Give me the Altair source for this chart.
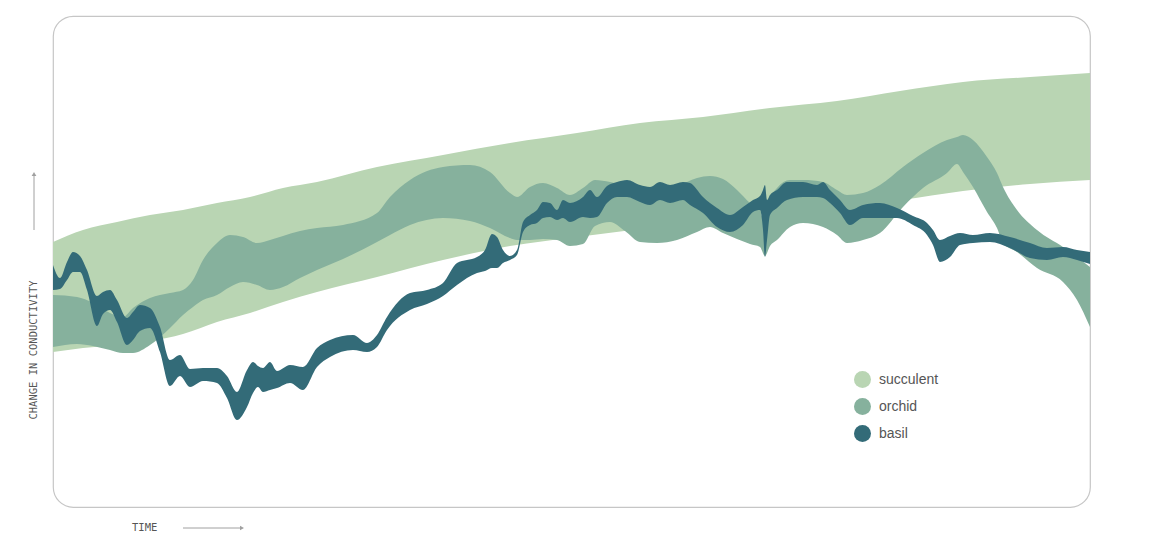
import altair as alt
import pandas as pd

# ---- data (time, upper value, lower value) ----
succ_t  = [0, 30, 64, 97, 130, 164, 197, 230, 264, 324, 390, 457, 524, 587, 650, 717, 784, 847, 910, 977, 1037]
succ_hi = [265, 277, 285, 292, 297, 304, 310, 319, 325, 340, 352, 364, 374, 384, 390, 399, 406, 416, 425, 430, 434]
succ_lo = [155, 159, 162, 166, 173, 185, 194, 205, 215, 230, 247, 261, 270, 278, 286, 294, 301, 307, 316, 323, 327]

orch_t  = [0, 24, 40, 57, 70, 80, 97, 117, 130, 140, 150, 164, 177, 190, 204, 217, 230, 247, 264, 290,
           324, 337, 357, 390, 417, 437, 457, 464, 477, 490, 504, 517, 530, 542, 557, 572, 587, 604, 624, 644,
           657, 670, 684, 697, 707, 712, 717, 724, 737, 750, 770, 784, 794, 810, 827, 850, 870, 894, 904, 910,
           920, 934, 944, 950, 964, 984, 1010, 1024, 1037]
orch_hi = [212, 210, 204, 194, 190, 199, 209, 214, 217, 227, 247, 264, 272, 270, 264, 267, 271, 276, 279, 282,
           294, 310, 327, 340, 342, 335, 314, 310, 320, 324, 319, 312, 319, 327, 325, 321, 317, 317, 321, 329,
           331, 328, 317, 304, 297, 282, 307, 319, 327, 327, 325, 317, 312, 314, 322, 340, 354, 367, 370, 372,
           367, 350, 334, 320, 297, 277, 260, 250, 240]
orch_lo = [160, 163, 161, 157, 154, 154, 162, 179, 192, 200, 207, 212, 220, 225, 222, 217, 220, 229, 237, 248,
           265, 272, 282, 289, 286, 279, 269, 267, 267, 268, 267, 261, 263, 281, 285, 276, 265, 264, 267, 275,
           280, 274, 268, 263, 260, 251, 261, 267, 280, 284, 280, 272, 264, 267, 274, 300, 319, 334, 343, 335,
           320, 295, 279, 264, 255, 239, 225, 207, 180]

basil_t  = [0, 7, 14, 20, 27, 34, 44, 50, 57, 64, 74, 80, 87, 97, 107, 117, 127, 137, 150, 164,
            174, 184, 194, 200, 205, 210, 217, 224, 237, 250, 264, 277, 300, 314, 324, 334, 357, 374, 390, 404,
            424, 432, 439, 444, 450, 457, 464, 470, 477, 484, 490, 497, 504, 510, 517, 530, 537, 544, 554, 564,
            574, 587, 597, 607, 617, 630, 637, 650, 664, 677, 690, 700, 707, 710, 712, 714, 717, 724, 734, 750,
            764, 770, 777, 787, 797, 810, 827, 844, 860, 874, 880, 887, 897, 907, 920, 937, 957, 977, 994, 1010,
            1024, 1037]
basil_hi = [242, 229, 245, 255, 251, 237, 211, 215, 217, 207, 189, 195, 202, 199, 180, 147, 152, 138, 139, 139,
            131, 115, 137, 145, 141, 139, 145, 136, 142, 140, 159, 167, 172, 164, 172, 190, 214, 217, 224, 244,
            250, 257, 273, 270, 257, 251, 257, 285, 292, 297, 305, 304, 297, 307, 304, 310, 317, 310, 321, 325,
            327, 322, 320, 325, 322, 325, 324, 310, 299, 292, 300, 307, 311, 317, 322, 307, 312, 317, 325, 325,
            322, 325, 317, 307, 297, 302, 304, 299, 291, 284, 277, 267, 271, 274, 272, 274, 270, 264, 259, 260,
            257, 255]
basil_lo = [217, 218, 227, 235, 235, 217, 181, 193, 197, 185, 162, 167, 176, 179, 155, 121, 131, 120, 126, 124,
            109, 87, 100, 114, 120, 115, 117, 119, 124, 117, 140, 150, 157, 155, 160, 177, 197, 203, 211, 222,
            234, 236, 239, 239, 244, 247, 252, 275, 282, 284, 289, 290, 287, 289, 285, 290, 289, 290, 304, 310,
            310, 305, 302, 307, 304, 307, 302, 294, 280, 275, 282, 295, 297, 277, 250, 267, 292, 299, 307, 310,
            310, 309, 304, 294, 282, 289, 289, 289, 282, 272, 262, 245, 250, 262, 264, 265, 259, 249, 247, 250,
            247, 243]

bands = ["succulent", "orchid", "basil"]
band_colors = ["#b9d5b3", "#86b19d", "#336b78"]

y_title = "CHANGE IN CONDUCTIVITY"
x_title = "TIME"

# ---- chart ----
W, H = 1037, 491
xs = alt.Scale(domain=[0, W], nice=False, zero=False)
ys = alt.Scale(domain=[0, H], nice=False, zero=False)
cs = alt.Scale(domain=bands, range=band_colors)

legend = alt.Legend(
    title=None, orient="none", legendX=801, legendY=355, padding=0,
    symbolType="circle", symbolSize=289, symbolOpacity=1, symbolStrokeWidth=0,
    labelFont="Liberation Sans", labelFontSize=14, labelColor="#555555",
    labelOffset=8, rowPadding=10,
)


def band_layer(name, t, hi, lo):
    df = pd.DataFrame({"t": t, "hi": hi, "lo": lo, "band": name})
    return alt.Chart(df).mark_area(interpolate="monotone", clip=True).encode(
        x=alt.X("t:Q", scale=xs, axis=None),
        y=alt.Y("hi:Q", scale=ys, axis=None),
        y2="lo:Q",
        color=alt.Color("band:N", scale=cs, legend=legend),
    )


succ = band_layer("succulent", succ_t, succ_hi, succ_lo)
orch = band_layer("orchid", orch_t, orch_hi, orch_lo)
basil = band_layer("basil", basil_t, basil_hi, basil_lo)

one = pd.DataFrame({"a": [0]})

ytxt = alt.Chart(pd.DataFrame({"label": [y_title]})).mark_text(
    angle=270, align="center", baseline="middle", font="DejaVu Sans Mono",
    fontSize=10.5, color="#555555"
).encode(x=alt.value(-19.5), y=alt.value(334), text="label:N")

xtxt = alt.Chart(pd.DataFrame({"label": [x_title]})).mark_text(
    align="left", baseline="middle", font="DejaVu Sans Mono",
    fontSize=10.5, color="#555555"
).encode(x=alt.value(79), y=alt.value(512), text="label:N")

yarrow = alt.Chart(one).mark_rule(color="#a0a0a0", strokeWidth=1).encode(
    x=alt.value(-19), y=alt.value(214), y2=alt.value(158))
yhead = alt.Chart(one).mark_point(shape="triangle-up", filled=True, size=22,
                                  color="#a0a0a0", opacity=1).encode(
    x=alt.value(-19), y=alt.value(158))

xarrow = alt.Chart(one).mark_rule(color="#a0a0a0", strokeWidth=1).encode(
    x=alt.value(130), x2=alt.value(188), y=alt.value(512))
xhead = alt.Chart(one).mark_point(shape="triangle-right", filled=True, size=22,
                                  color="#a0a0a0", opacity=1).encode(
    x=alt.value(189), y=alt.value(512))

chart = alt.layer(succ, orch, basil, ytxt, xtxt, yarrow, yhead, xarrow, xhead).properties(
    width=W, height=H,
    autosize=alt.AutoSizeParams(type="none"),
    padding={"left": 45, "top": 8, "right": 50, "bottom": 36},
    background="white",
).configure_view(
    stroke="#c6c6c6", strokeWidth=1.2, cornerRadius=20
)

chart.save("out.html", embed_options={"renderer": "svg", "actions": False})
